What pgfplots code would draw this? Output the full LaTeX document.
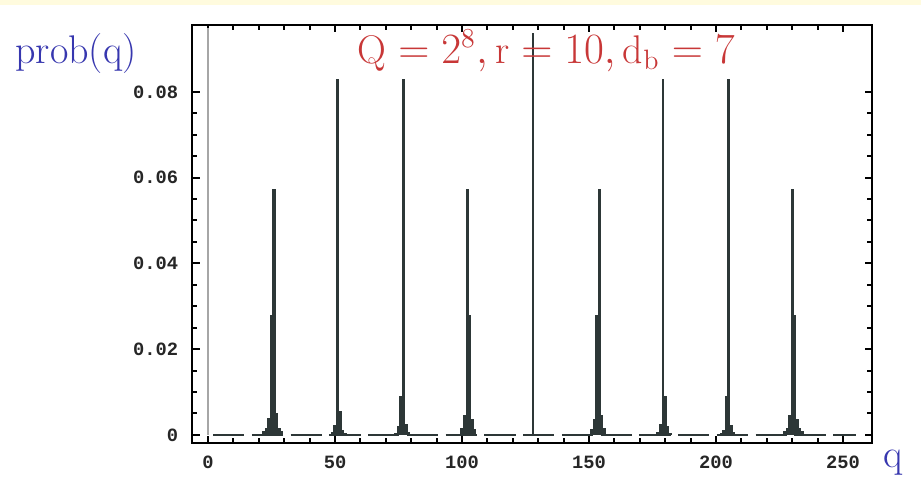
\documentclass[border=0pt]{standalone}
\usepackage{fontspec}
\usepackage{pgfplots}
\pgfplotsset{compat=1.18}
\newfontfamily\tickfont{Liberation Mono}
\definecolor{barc}{RGB}{45,55,55}
\definecolor{labblue}{RGB}{55,55,175}
\definecolor{titred}{RGB}{200,55,55}
\definecolor{band}{RGB}{255,251,222}
\begin{document}
\begin{tikzpicture}
\fill[white] (0,0) rectangle (368.4pt,196pt);
\fill[band] (0,194pt) rectangle (368.4pt,196pt);
\begin{axis}[
  at={(76.8pt,18.8pt)}, anchor=south west,
  scale only axis, width=272pt, height=167.2pt,
  xmin=-6.3, xmax=261.4, ymin=-0.0019, ymax=0.0956,
  axis line style={line width=0.9pt, black},
  tick align=inside,
  xtick={0,50,100,150,200,250}, minor x tick num=4,
  ytick={0,0.02,0.04,0.06,0.08},
  yticklabels={0,0.02,0.04,0.06,0.08},
  scaled y ticks=false,
  minor y tick num=3,
  major tick length=3pt, minor tick length=2pt,
  every tick/.style={line width=0.8pt, black},
  /pgf/number format/assume math mode=true,
  ticklabel style={font=\tickfont\bfseries\fontsize{7.5}{8}\selectfont, text=black!85},
  yticklabel style={xshift=-2pt},
  xticklabel style={yshift=-1.5pt},
  clip=true,
]
% near-zero baseline
\addplot[barc, line width=0.8pt, dash pattern=on 12.5pt off 3pt] coordinates {(2,0) (255,0)};
% q = 0 peak (light)
\addplot[ycomb, gray!70, line width=0.6pt] coordinates {(0,0.095)};
% thin peaks
\addplot[ycomb, barc, line width=0.7pt] coordinates {(128,0.0937) (179,0.083)};
% main bars
\addplot[ycomb, barc, line width=1.25pt] table {
x y
22 0.0008
23 0.0015
24 0.0040
25 0.0279
26 0.0573
27 0.0050
28 0.0016
29 0.0008
49 0.0007
50 0.0024
51 0.0830
52 0.0055
53 0.0011
54 0.0005
74 0.0005
75 0.0020
76 0.0090
77 0.0830
78 0.0025
79 0.0007
100 0.0015
101 0.0047
102 0.0573
103 0.0279
104 0.0036
105 0.0013
151 0.0013
152 0.0036
153 0.0279
154 0.0573
155 0.0047
156 0.0015
177 0.0007
178 0.0025
180 0.0090
181 0.0020
182 0.0005
202 0.0005
203 0.0011
204 0.0090
205 0.0830
206 0.0024
207 0.0007
227 0.0008
228 0.0016
229 0.0047
230 0.0573
231 0.0279
232 0.0036
233 0.0015
234 0.0008
};
\end{axis}
\node[anchor=base west, inner sep=0pt, text=labblue, font=\fontsize{16}{18}\selectfont] at (6pt,170.8pt) {prob(q)};
\node[anchor=base west, inner sep=0pt, text=titred, font=\fontsize{16}{18}\selectfont] at (142.8pt,170.8pt) {$\mathrm{Q}=2^{8},\mathrm{r}=10,\mathrm{d_b}=7$};
\node[anchor=base west, inner sep=0pt, text=labblue, font=\fontsize{16}{18}\selectfont] at (353.2pt,9.2pt) {q};
\end{tikzpicture}
\end{document}
